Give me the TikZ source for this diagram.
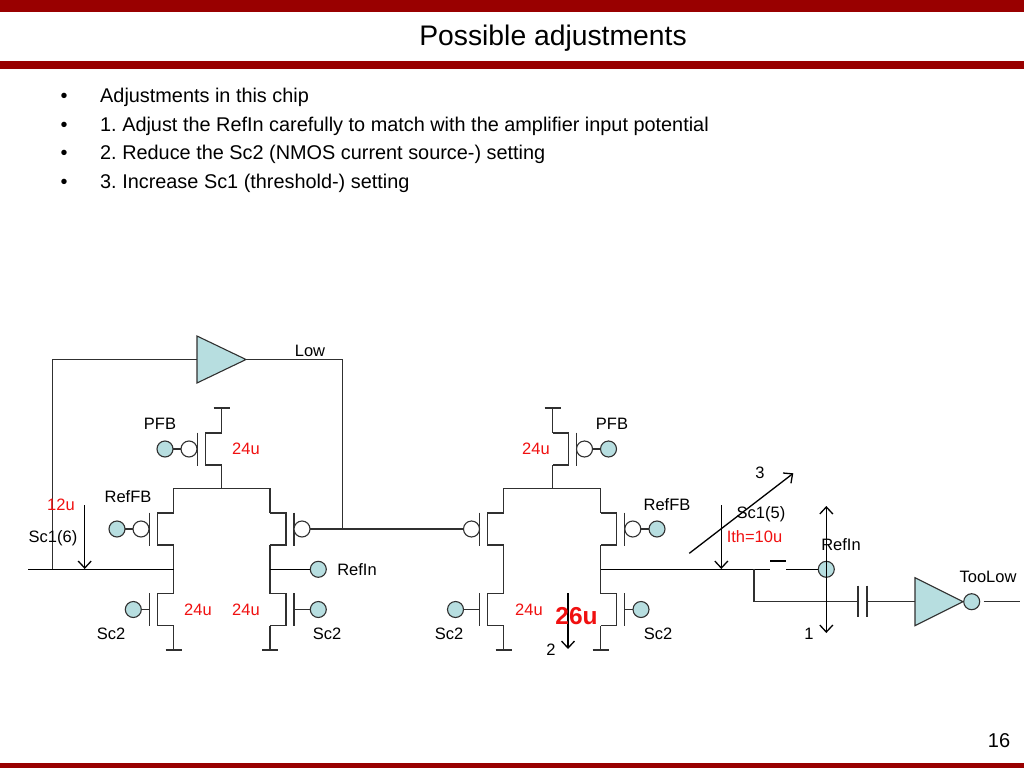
\documentclass[tikz,border=0pt]{standalone}
\usepackage{fontspec}
\setmainfont{Liberation Sans}
\usetikzlibrary{arrows.meta,shapes.geometric}
\definecolor{barred}{HTML}{990000}
\definecolor{padfill}{HTML}{B7DEE0}
\definecolor{wire}{HTML}{303030}
\definecolor{labred}{HTML}{F01010}
\frenchspacing
\tikzset{
  wl/.style={draw=wire,line width=1.4pt},
  bk/.style={draw=black,line width=1.3pt},
  pad/.style={circle,draw=wire,line width=1.1pt,fill=padfill,minimum size=16pt,inner sep=0pt,outer sep=0pt},
  bub/.style={circle,draw=wire,line width=1.1pt,fill=white,minimum size=16pt,inner sep=0pt,outer sep=0pt},
  tribuf/.style={draw=wire,line width=1.1pt,fill=padfill,isosceles triangle,isosceles triangle apex angle=90,isosceles triangle stretches,inner sep=0pt,outer sep=0pt,anchor=lower side},
  lab/.style={font=\fontsize{16.5}{16.5}\selectfont,text=black,inner sep=0pt,text height=11.9pt,text depth=0pt},
  redlab/.style={lab,text=labred},
  body/.style={font=\fontsize{19.87}{20}\selectfont,text=black,inner sep=0pt,text height=14.3pt,text depth=0pt,anchor=west},
  arr/.style={draw=black,line width=1.3pt,-{Straight Barb[length=7pt,width=13pt,line width=1.3pt]}},
  darr/.style={draw=black,line width=1.3pt,{Straight Barb[length=7pt,width=13pt,line width=1.3pt]}-{Straight Barb[length=7pt,width=13pt,line width=1.3pt]}},
}
% name, gate-bar x, centre y, direction towards the stem
\newcommand\MOSdev[4]{%
  \coordinate (#1g) at (#2,#3);
  \coordinate (#1t) at ([shift={(#4*24,-16)}]#2,#3);
  \coordinate (#1b) at ([shift={(#4*24,16)}]#2,#3);
  \draw[wl] ([shift={(0,-16.5)}]#2,#3) -- ([shift={(0,16.5)}]#2,#3);
  \draw[wl] (#1t) -- ([shift={(#4*8,-16)}]#2,#3) -- ([shift={(#4*8,16)}]#2,#3) -- (#1b);
}
\begin{document}
\begin{tikzpicture}[x=1pt,y=-1pt]
\useasboundingbox (0,0) rectangle (1024,768);
% slide frame
\fill[barred] (0,0) rectangle (1024,12.5);
\fill[barred] (0,61) rectangle (1024,69);
\fill[barred] (0,763) rectangle (1024,768);
\node[font=\fontsize{28.3}{28.3}\selectfont,inner sep=0pt,text height=20.3pt,text depth=0pt] (title) at (553,35) {Possible adjustments};
\node[body,anchor=center] (b1) at (64,95) {•};
\node[body,anchor=center] (b2) at (64,124) {•};
\node[body,anchor=center] (b3) at (64,152.5) {•};
\node[body,anchor=center] (b4) at (64,181) {•};
\node[body] (t1) at (100,95) {Adjustments in this chip};
\node[body] (t2) at (100,124) {1. Adjust the RefIn carefully to match with the amplifier input potential};
\node[body] (t3) at (100,152.5) {2. Reduce the Sc2 (NMOS current source-) setting};
\node[body] (t4) at (100,181) {3. Increase Sc1 (threshold-) setting};
\node[font=\fontsize{20}{20}\selectfont,inner sep=0pt,text height=14.4pt,text depth=0pt] (pg) at (999,740.5) {16};
% devices
\MOSdev{pl}{197.5}{449}{1}
\MOSdev{il}{149.5}{529}{1}
\MOSdev{ir}{294}{529}{-1}
\MOSdev{nl}{149.5}{609.5}{1}
\MOSdev{nr}{294}{609.5}{-1}
\MOSdev{pr}{576.5}{449}{-1}
\MOSdev{jl}{479.7}{529}{1}
\MOSdev{jr}{624.5}{529}{-1}
\MOSdev{ml}{479.7}{609.5}{1}
\MOSdev{mr}{624.5}{609.5}{-1}
% bubbles and pads
\node[bub] (bpl) at (189,449) {};
\node[pad] (ppl) at (165,449) {};
\node[bub] (bil) at (141,529) {};
\node[pad] (pil) at (117,529) {};
\node[bub] (bir) at (302,529) {};
\node[pad] (pnl) at (133.3,609.5) {};
\node[pad] (pnr) at (318.3,609.5) {};
\node[pad] (prefa) at (318.3,569.3) {};
\node[bub] (bjl) at (471.5,529) {};
\node[bub] (bpr) at (584.5,449) {};
\node[pad] (ppr) at (608.5,449) {};
\node[bub] (bjr) at (632.8,529) {};
\node[pad] (pjr) at (657,529) {};
\node[pad] (pml) at (455.5,609.5) {};
\node[pad] (pmr) at (641,609.5) {};
\node[pad] (prefb) at (826.3,569.3) {};
\node[pad] (ptoo) at (971.7,601.7) {};
% triangles
\node[tribuf,minimum width=47pt,minimum height=49pt] (bufa) at (197,359.5) {};
\node[tribuf,minimum width=48pt,minimum height=48pt] (bufb) at (915,601.7) {};
% gate connections
\draw[wl] (ppl) -- (bpl);
\draw[wl] (pil) -- (bil);
\draw[wl] (ppr) -- (bpr);
\draw[wl] (pjr) -- (bjr);
\draw[wl] (pnl) -- (nlg);
\draw[wl] (pnr) -- (nrg);
\draw[wl] (pml) -- (mlg);
\draw[wl] (pmr) -- (mrg);
% rails, left stage
\coordinate (vl) at (221.5,408);
\coordinate (tl) at (221.5,488.5);
\draw[wl] (213.5,408) -- (229.5,408);
\draw[wl] (vl) -- (plt);
\draw[wl] (plb) -- (tl);
\draw[wl] (ilt) |- (tl) -| (irt);
\draw[wl] (ilb) -- (nlt);
\draw[wl] (irb) -- (nrt);
\coordinate (gla) at (173.5,650);
\coordinate (glb) at (270,650);
\draw[wl] (nlb) -- (gla);
\draw[wl] (nrb) -- (glb);
\draw[wl] (165.5,650) -- (181.5,650);
\draw[wl] (262,650) -- (278,650);
% rails, right stage
\coordinate (vr) at (552.5,408);
\coordinate (tr) at (552.5,488.7);
\draw[wl] (544.5,408) -- (560.5,408);
\draw[wl] (vr) -- (prt);
\draw[wl] (prb) -- (tr);
\draw[wl] (jlt) |- (tr) -| (jrt);
\draw[wl] (jlb) -- (mlt);
\draw[wl] (jrb) -- (mrt);
\coordinate (gra) at (503.7,650);
\coordinate (grb) at (600.5,650);
\draw[wl] (mlb) -- (gra);
\draw[wl] (mrb) -- (grb);
\draw[wl] (495.7,650) -- (511.7,650);
\draw[wl] (592.5,650) -- (608.5,650);
% wires
\coordinate (fbtop) at (342.5,359.5);
\coordinate (fbj) at (342.5,529);
\coordinate (fbl) at (52.4,569.3);
\coordinate (fbin) at (52.4,359.5);
\coordinate (lineL) at (28,569.3);
\coordinate (nodeL) at (173.5,569.3);
\coordinate (nodeRa) at (270,569.3);
\coordinate (nodeRb) at (600.5,569.3);
\coordinate (swa) at (769.5,569.3);
\coordinate (swb) at (786,569.3);
\coordinate (brk) at (754,569.3);
\coordinate (capa) at (858,601.7);
\coordinate (capb) at (867,601.7);
\coordinate (outr) at (1020,601.7);
\draw[wl] (bufa.apex) -- (fbtop) -- (fbj);
\draw[wl] (fbin) -- (bufa.lower side);
\draw[wl] (fbin) -- (fbl);
\draw[wl] (bir) -- (bjl);
\draw[bk] (lineL) -- (nodeL);
\draw[bk] (nodeRa) -- (prefa);
\draw[bk] (nodeRb) -- (swa);
\draw[bk] (swb) -- (prefb);
\draw[bk] (770,561) -- (786,561);
\draw[wl] (brk) |- (capa);
\draw[wl] (858,585.7) -- (858,617.3);
\draw[wl] (867,585.7) -- (867,617.3);
\draw[wl] (capb) -- (bufb.lower side);
\draw[wl] (ptoo.east) ++(4,0) -- (outr);
% arrows
\coordinate (a1s) at (84.7,505);
\coordinate (a1e) at (84.7,569);
\coordinate (a2s) at (721.3,505);
\coordinate (a2e) at (721.3,569);
\coordinate (a3s) at (689.3,553.3);
\coordinate (a3e) at (793.3,473.3);
\coordinate (a4s) at (826.3,506);
\coordinate (a4e) at (826.3,633);
\coordinate (a5s) at (568,593);
\coordinate (a5e) at (568,649);
\draw[arr] (a1s) -- (a1e);
\draw[arr] (a2s) -- (a2e);
\draw[arr] (a3s) -- (a3e);
\draw[darr] (a4s) -- (a4e);
\draw[arr] (a5s) -- (a5e);
% labels
\node[lab] (lLow) at (310,351) {Low};
\node[lab] (lPFBa) at (160,424) {PFB};
\node[redlab] (u1) at (246,449) {24u};
\node[lab] (lRFa) at (128,497) {RefFB};
\node[redlab] (u2) at (61,505) {12u};
\node[lab] (lS6) at (53,537) {Sc1(6)};
\node[lab] (lRIa) at (357,569.5) {RefIn};
\node[lab] (lSa) at (111,634) {Sc2};
\node[lab] (lSb) at (327,634) {Sc2};
\node[redlab] (u3) at (198,610) {24u};
\node[redlab] (u4) at (246,610) {24u};
\node[lab] (lPFBb) at (612,424) {PFB};
\node[redlab] (u5) at (536,449) {24u};
\node[lab] (l3) at (760,473) {3};
\node[lab] (lRFb) at (667,505) {RefFB};
\node[lab] (lS5) at (761,513) {Sc1(5)};
\node[redlab] (u6) at (754.5,537) {Ith=10u};
\node[lab] (lRIb) at (841,545) {RefIn};
\node[lab] (lToo) at (988,577) {TooLow};
\node[redlab] (u7) at (529,610) {24u};
\node[redlab,font=\fontsize{24.5}{24.5}\selectfont\bfseries,text height=17.6pt] (u8) at (576.5,616) {26u};
\node[lab] (lSc) at (449,634) {Sc2};
\node[lab] (lSd) at (658,634) {Sc2};
\node[lab] (l1) at (809,634) {1};
\node[lab] (l2) at (551,650) {2};
\end{tikzpicture}
\end{document}
